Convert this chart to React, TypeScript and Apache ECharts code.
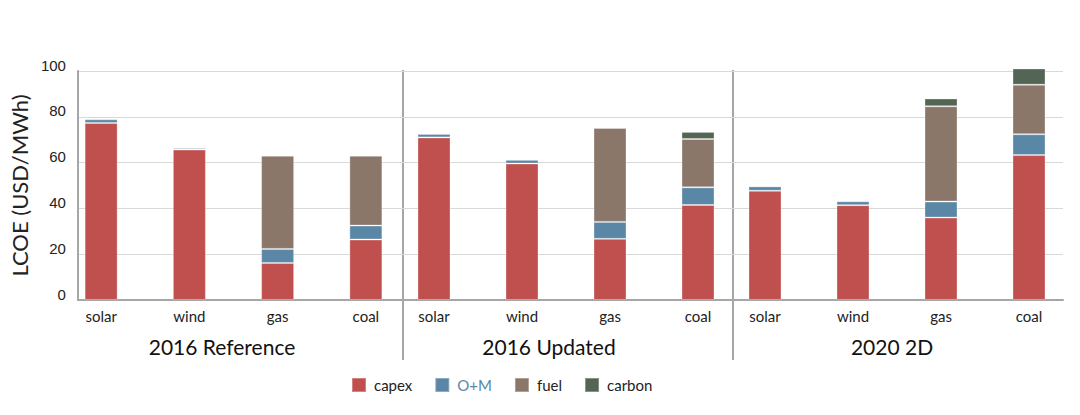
import React, { useEffect, useRef } from "react";
import * as echarts from "echarts";

const categories = ["solar", "wind", "gas", "coal"];
const groups = ["2016 Reference", "2016 Updated", "2020 2D"];
const seriesNames = ["capex", "O+M", "fuel", "carbon"];

const capex = [
  [77.3, 65.7, 16.2, 26.4],
  [71.0, 59.6, 26.7, 41.5],
  [47.7, 41.4, 36.0, 63.3],
];
const om = [
  [1.6, 0.7, 6.1, 6.1],
  [1.5, 1.6, 7.4, 7.7],
  [1.9, 1.7, 7.0, 9.1],
];
const fuel = [
  [null, null, 40.7, 30.5],
  [null, null, 41.0, 21.1],
  [null, null, 41.6, 21.6],
];
const carbon = [
  [null, null, null, null],
  [null, null, null, 3.1],
  [null, null, 3.4, 7.1],
];

const colors = ["#c0504d", "#5b87a6", "#8a776a", "#536555"];
const FONT = "Lato, 'Open Sans', sans-serif";

export default function App() {
  const ref = useRef<HTMLDivElement>(null);
  useEffect(() => {
    if (!ref.current) return;
    const chart = echarts.init(ref.current, null, { renderer: "svg" });
    const top = 71;
    const bottom = 415 - 300;
    const barGrids = [
      { left: 57, width: 353 },
      { left: 390, width: 352 },
      { left: 721, width: 352 },
    ];
    const grid: any[] = [{ left: 63, width: 1000, top, bottom }];
    const xAxis: any[] = [
      {
        type: "value",
        gridIndex: 0,
        min: 0,
        max: 1,
        axisLine: { show: true, lineStyle: { color: "#a6a6a6", width: 2 } },
        axisTick: { show: false },
        axisLabel: { show: false },
        splitLine: { show: false },
      },
    ];
    const yAxis: any[] = [
      {
        type: "value",
        gridIndex: 0,
        min: 0,
        max: 100,
        interval: 20,
        name: "LCOE (USD/MWh)",
        nameLocation: "middle",
        nameGap: 35,
        nameTextStyle: { fontFamily: FONT, fontSize: 22, color: "#222" },
        axisLine: { show: true, lineStyle: { color: "#a6a6a6", width: 2 } },
        axisTick: { show: false },
        axisLabel: {
          fontFamily: "'Liberation Sans', Arial, sans-serif",
          fontSize: 15,
          color: "#222",
          margin: 12,
          verticalAlign: "bottom",
          lineHeight: 12,
        },
        splitLine: { show: true, lineStyle: { color: "#d9d9d9", width: 1 } },
      },
    ];
    const series: any[] = [];
    barGrids.forEach((g, i) => {
      grid.push({ left: g.left, width: g.width, top, bottom });
      xAxis.push({
        type: "category",
        gridIndex: i + 1,
        data: categories,
        axisLine: { show: false },
        axisTick: { show: false },
        axisLabel: { fontFamily: FONT, fontSize: 15, color: "#222", margin: 8 },
      });
      yAxis.push({
        type: "value",
        gridIndex: i + 1,
        min: 0,
        max: 100,
        interval: 20,
        show: false,
        splitLine: { show: false },
      });
      const datasets = [capex[i], om[i], fuel[i], carbon[i]];
      datasets.forEach((d, k) => {
        series.push({
          type: "bar",
          name: seriesNames[k],
          xAxisIndex: i + 1,
          yAxisIndex: i + 1,
          stack: "g" + i,
          data: d,
          barWidth: 33,
          clip: false,
          itemStyle: {
            color: colors[k],
            borderColor: "rgba(255,255,255,0.3)",
            borderWidth: 1,
          },
        });
      });
    });
    const groupCenters = [222, 549, 892];
    const graphic: any[] = [];
    groups.forEach((name, i) => {
      graphic.push({
        type: "text",
        x: groupCenters[i],
        y: 346,
        style: {
          text: name,
          fontFamily: FONT,
          fontSize: 21,
          fill: "#111",
          align: "center",
          verticalAlign: "middle",
        },
      });
    });
    [403, 733].forEach((x) => {
      graphic.push({
        type: "line",
        shape: { x1: x, y1: 70, x2: x, y2: 360 },
        style: { stroke: "#a6a6a6", lineWidth: 2 },
      });
    });
    chart.setOption({
      animation: false,
      grid,
      xAxis,
      yAxis,
      series,
      graphic,
      legend: {
        left: 346,
        top: 372,
        itemWidth: 14,
        itemHeight: 14,
        itemGap: 22,
        icon: "rect",
        textStyle: { fontFamily: FONT, fontSize: 15, color: "#222", padding: [0, 0, 0, 3] },
        data: [
          { name: "capex" },
          { name: "O+M", textStyle: { color: "#5b87a6" } },
          { name: "fuel" },
          { name: "carbon" },
        ],
      },
    });
    return () => chart.dispose();
  }, []);
  return (
    <div
      ref={ref}
      style={{ position: "fixed", left: 0, top: 0, width: 1080, height: 415, background: "#fff" }}
    />
  );
}
